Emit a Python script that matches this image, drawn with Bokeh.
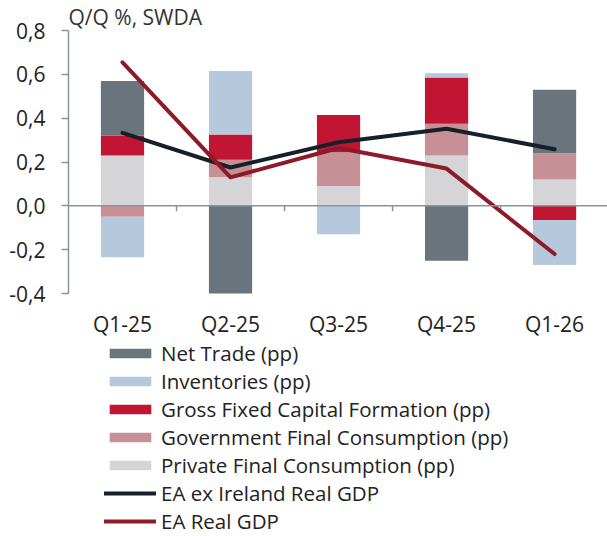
import numpy as np
from bokeh.plotting import figure
from bokeh.layouts import column
from bokeh.models import (Range1d, FixedTicker, CustomJSTickFormatter, LinearAxis,
                          Legend, LegendItem, Span)
from bokeh.embed import file_html
from bokeh.resources import INLINE

# ---- data ----
quarters = ["Q1-25", "Q2-25", "Q3-25", "Q4-25", "Q1-26"]
private_cons = [0.23, 0.13, 0.09, 0.23, 0.12]
gov_cons = [-0.05, 0.08, 0.155, 0.145, 0.12]
gfcf = [0.09, 0.115, 0.17, 0.21, -0.065]
inventories = [-0.185, 0.29, -0.13, 0.02, -0.205]
net_trade = [0.25, -0.41, 0.0, -0.25, 0.29]
ea_ex_ireland = [0.333, 0.175, 0.29, 0.352, 0.258]
ea_real_gdp = [0.655, 0.13, 0.264, 0.17, -0.22]
y_ticks = [-0.4, -0.2, 0.0, 0.2, 0.4, 0.6, 0.8]

series = [
    ("Private Final Consumption (pp)", private_cons, "#d5d5d7"),
    ("Government Final Consumption (pp)", gov_cons, "#c79096"),
    ("Gross Fixed Capital Formation (pp)", gfcf, "#c21433"),
    ("Inventories (pp)", inventories, "#b5c8dc"),
    ("Net Trade (pp)", net_trade, "#69747c"),
]
lines = [
    ("EA ex Ireland Real GDP", ea_ex_ireland, "#16202b"),
    ("EA Real GDP", ea_real_gdp, "#8c1a27"),
]
legend_order = ["Net Trade (pp)", "Inventories (pp)", "Gross Fixed Capital Formation (pp)",
                "Government Final Consumption (pp)", "Private Final Consumption (pp)",
                "EA ex Ireland Real GDP", "EA Real GDP"]

FONT = "Open Sans"
AX = "#8b939a"

x = np.arange(len(quarters))

p = figure(width=607, height=340, output_backend="svg", toolbar_location=None,
           x_range=Range1d(-0.5, 4.49), y_range=Range1d(-0.4, 0.8),
           min_border_left=68, min_border_right=0, min_border_top=29,
           min_border_bottom=45, x_axis_type=None, y_axis_type=None)
p.outline_line_color = None
p.xgrid.visible = False
p.ygrid.visible = False
p.background_fill_color = "white"
p.border_fill_color = "white"

p.title.text = "Q/Q %, SWDA"
p.title.text_font = FONT
p.title.text_font_size = "21px"
p.title.text_font_style = "normal"
p.title.text_color = "#333333"
p.title.align = "left"
p.title.standoff = 0
p.title.offset = 0

# stacked bars: positives up, negatives down
pos_base = np.zeros(len(quarters))
neg_base = np.zeros(len(quarters))
for name, vals, color in series:
    v = np.array(vals, dtype=float)
    bottom = np.where(v >= 0, pos_base, neg_base)
    top = bottom + v
    pos_base = np.where(v >= 0, top, pos_base)
    neg_base = np.where(v < 0, top, neg_base)
    p.vbar(x=x, width=0.4, bottom=bottom, top=top, fill_color=color, line_color=None)

zero = Span(location=0, dimension="width", line_color=AX, line_width=1.5)
p.add_layout(zero)
bounds = x[:-1] + 0.5
p.segment(x0=bounds, y0=np.zeros(len(bounds)), x1=bounds,
          y1=np.full(len(bounds), -0.025), line_color=AX, line_width=1.5)

for name, vals, color in lines:
    p.line(x, vals, line_color=color, line_width=4, line_cap="round", line_join="round")

# y axis
yax = LinearAxis(ticker=FixedTicker(ticks=y_ticks),
                 formatter=CustomJSTickFormatter(code="return tick.toFixed(1).replace('.', ',')"))
yax.axis_line_color = AX
yax.axis_line_width = 1.5
yax.major_tick_line_color = AX
yax.major_tick_line_width = 1.5
yax.major_tick_out = 7
yax.major_tick_in = 0
yax.minor_tick_line_color = None
yax.major_label_text_font = FONT
yax.major_label_text_font_size = "21px"
yax.major_label_text_color = "#222222"
yax.major_label_standoff = 16
p.add_layout(yax, "left")

# x axis (labels only)
xax = LinearAxis(ticker=FixedTicker(ticks=list(x)),
                 major_label_overrides={int(i): q for i, q in zip(x, quarters)})
xax.axis_line_color = None
xax.major_tick_line_color = None
xax.major_tick_out = 0
xax.major_tick_in = 0
xax.minor_tick_line_color = None
xax.major_label_text_font = FONT
xax.major_label_text_font_size = "21px"
xax.major_label_text_color = "#222222"
xax.major_label_standoff = 16
p.add_layout(xax, "below")

# legend panel below the chart (proxy renderers lie outside its ranges)
lg = figure(width=607, height=196, output_backend="svg", toolbar_location=None,
            x_range=Range1d(100, 101), y_range=Range1d(100, 101),
            min_border_left=68, min_border_right=0, min_border_top=0,
            min_border_bottom=0, x_axis_type=None, y_axis_type=None)
lg.outline_line_color = None
lg.xgrid.visible = False
lg.ygrid.visible = False
lg.border_fill_color = "white"

proxies = {}
for name, vals, color in series:
    proxies[name] = lg.vbar(x=x, top=vals, width=0.4, fill_color=color, line_color=None)
for name, vals, color in lines:
    proxies[name] = lg.line(x, vals, line_color=color, line_width=4, line_cap="round")

legend = Legend(items=[LegendItem(label=n, renderers=[proxies[n]]) for n in legend_order],
                location=(36, 1))
legend.border_line_color = None
legend.background_fill_alpha = 0
legend.padding = 0
legend.margin = 0
legend.spacing = 0
legend.glyph_width = 52
legend.glyph_height = 12
legend.label_standoff = 5
legend.label_height = 20
legend.label_text_font = FONT
legend.label_text_font_size = "20.5px"
legend.label_text_color = "#222222"
lg.add_layout(legend)

open("out.html", "w").write(file_html(column(p, lg, spacing=0), INLINE))
